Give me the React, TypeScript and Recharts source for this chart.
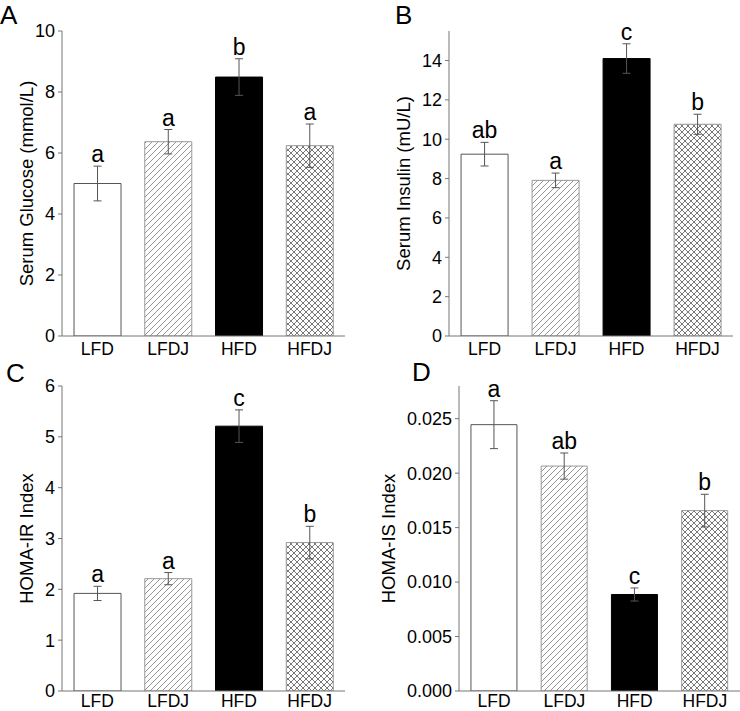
import React from 'react';
import { BarChart, Bar, XAxis, YAxis, ErrorBar, Cell, LabelList } from 'recharts';

const groups = ['LFD', 'LFDJ', 'HFD', 'HFDJ'];

const glucoseMean = [5.0, 6.37, 8.49, 6.24];
const glucoseSe = [0.57, 0.4, 0.6, 0.71];
const glucoseSig = ['a', 'a', 'b', 'a'];
const glucoseTicks = [0, 2, 4, 6, 8, 10];

const insulinMean = [9.24, 7.91, 14.1, 10.76];
const insulinSe = [0.6, 0.37, 0.75, 0.51];
const insulinSig = ['ab', 'a', 'c', 'b'];
const insulinTicks = [0, 2, 4, 6, 8, 10, 12, 14];

const homaIrMean = [1.92, 2.21, 5.21, 2.92];
const homaIrSe = [0.14, 0.12, 0.32, 0.32];
const homaIrSig = ['a', 'a', 'c', 'b'];
const homaIrTicks = [0, 1, 2, 3, 4, 5, 6];

const homaIsMean = [0.02445, 0.02065, 0.00886, 0.01656];
const homaIsSe = [0.0022, 0.0012, 0.0006, 0.0015];
const homaIsSig = ['a', 'ab', 'c', 'b'];
const homaIsTicks = [0, 0.005, 0.01, 0.015, 0.02, 0.025];

const FONT = '"Liberation Sans", Arial, Helvetica, sans-serif';
const AXIS = '#777';

function Panel({ id, letter, left, top, height, yWidth, right, labelX, ylabel, mean, se, sig, ticks, max, fmt, letterX, letterY, xTickSize }: any) {
  const data = groups.map((g, i) => ({ group: g, value: mean[i], err: se[i], sig: sig[i] }));
  const fills = ['#ffffff', `url(#diag-${id})`, '#000000', `url(#cross-${id})`];
  const strokes = ['#555555', '#999999', '#000000', '#999999'];

  const sigLabel = (p: any) => {
    const x = p.x ?? p.viewBox?.x;
    const y = p.y ?? p.viewBox?.y;
    const w = p.width ?? p.viewBox?.width;
    const h = p.height ?? p.viewBox?.height;
    const i = p.index;
    const k = h / mean[i];
    const top = y - se[i] * k;
    return (
      <text x={x + w / 2} y={top - 4} textAnchor="middle" fontSize={23} fontFamily={FONT} fill="#000">
        {sig[i]}
      </text>
    );
  };

  return (
    <div style={{ position: 'absolute', left, top }}>
      <BarChart width={370} height={height} data={data} margin={{ top: 31, right, left: 0, bottom: 0 }} barCategoryGap="17%">
        <defs>
          <pattern id={`diag-${id}`} patternUnits="userSpaceOnUse" width={6} height={6}>
            <rect width={6} height={6} fill="#fff" />
            <path d="M-1,1 L1,-1 M0,6 L6,0 M5,7 L7,5" stroke="#8a8a8a" strokeWidth={0.9} />
          </pattern>
          <pattern id={`cross-${id}`} patternUnits="userSpaceOnUse" width={6} height={6}>
            <rect width={6} height={6} fill="#fff" />
            <path d="M0,6 L6,0 M-1,1 L1,-1 M5,7 L7,5 M0,0 L6,6 M-1,5 L1,7 M5,-1 L7,1" stroke="#555" strokeWidth={0.8} />
          </pattern>
        </defs>
        <XAxis
          dataKey="group"
          height={height - 31 - 305}
          tickLine={false}
          axisLine={{ stroke: AXIS }}
          tick={{ fill: '#000', fontSize: 17.5, fontFamily: FONT }}
          tickSize={xTickSize}
          interval={0}
        />
        <YAxis
          width={yWidth}
          domain={[0, max]}
          ticks={ticks}
          allowDataOverflow
          tickFormatter={fmt}
          axisLine={{ stroke: AXIS }}
          tickLine={{ stroke: AXIS }}
          tickSize={4}
          tickMargin={3}
          tick={{ fill: '#000', fontSize: 18, fontFamily: FONT }}
          label={(p: any) => {
            const vb = p.viewBox;
            const cy = vb.y + vb.height / 2;
            return (
              <text x={labelX} y={cy} transform={`rotate(-90 ${labelX} ${cy})`} textAnchor="middle" dominantBaseline="central" fontSize={18.5} fontFamily={FONT} fill="#000">
                {ylabel}
              </text>
            );
          }}
        />
        <Bar dataKey="value" isAnimationActive={false}>
          {data.map((d, i) => (
            <Cell key={d.group} fill={fills[i]} stroke={strokes[i]} strokeWidth={1} />
          ))}
          <ErrorBar dataKey="err" width={4} stroke="#555" strokeWidth={1} direction="y" />
          <LabelList dataKey="sig" content={sigLabel} />
        </Bar>
      </BarChart>
      <svg width={40} height={40} style={{ position: 'absolute', left: letterX, top: letterY, overflow: 'visible' }}>
        <text x={0} y={24} fontSize={26} fontFamily={FONT} fill="#000">{letter}</text>
      </svg>
    </div>
  );
}

export default function App() {
  return (
    <div style={{ position: 'absolute', left: 0, top: 0, width: 740, height: 711, background: '#fff', overflow: 'hidden' }}>
      <Panel id="A" letter="A" left={0} top={0} height={360} yWidth={62} right={25} labelX={26.5} xTickSize={5}
        ylabel="Serum Glucose (mmol/L)" mean={glucoseMean} se={glucoseSe} sig={glucoseSig} ticks={glucoseTicks} max={10}
        letterX={0} letterY={0} />
      <Panel id="B" letter="B" left={370} top={0} height={360} yWidth={79} right={7} labelX={33.5} xTickSize={5}
        ylabel="Serum Insulin (mU/L)" mean={insulinMean} se={insulinSe} sig={insulinSig} ticks={insulinTicks} max={15.5}
        letterX={25} letterY={0} />
      <Panel id="C" letter="C" left={0} top={355} height={356} yWidth={62} right={25} labelX={26.5} xTickSize={2}
        ylabel="HOMA-IR Index" mean={homaIrMean} se={homaIrSe} sig={homaIrSig} ticks={homaIrTicks} max={6}
        letterX={6} letterY={3} />
      <Panel id="D" letter="D" left={370} top={355} height={356} yWidth={89} right={0} labelX={18.5} xTickSize={2}
        ylabel="HOMA-IS Index" mean={homaIsMean} se={homaIsSe} sig={homaIsSig} ticks={homaIsTicks} max={0.028}
        fmt={(v: number) => v.toFixed(3)} letterX={42} letterY={2} />
    </div>
  );
}
